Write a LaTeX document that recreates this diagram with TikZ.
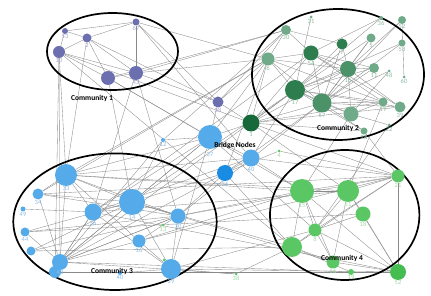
\documentclass[tikz,border=0pt]{standalone}
\usepackage{fontspec}
\setmainfont{Carlito}
\pgfdeclarelayer{bg}
\pgfsetlayers{bg,main}
\definecolor{c1}{HTML}{6B6FB0}
\definecolor{lc1}{HTML}{A3A6CF}
\definecolor{g2a}{HTML}{2E7D4F}
\definecolor{g2b}{HTML}{4C9268}
\definecolor{g2c}{HTML}{6FAA89}
\definecolor{g2d}{HTML}{17693A}
\definecolor{lg2}{HTML}{8DBBA0}
\definecolor{b3}{HTML}{55ABEA}
\definecolor{b36}{HTML}{1A8BE3}
\definecolor{lb3}{HTML}{8CBBE6}
\definecolor{g4}{HTML}{5BC764}
\definecolor{g4d}{HTML}{45BD50}
\definecolor{lg4}{HTML}{9ED9A3}
\definecolor{edgegray}{HTML}{8A8A8A}
\newcommand\mynode[7]{\node[circle,inner sep=0pt,minimum size=#4pt,fill=#5,
  label={[lab,text=#6]below:#7}] (#1) at (#2,#3) {};}
\begin{document}
\begin{tikzpicture}[x=1pt,y=-1pt,
  lab/.style={inner sep=0.3pt,font=\fontsize{6.5}{7}\selectfont},
  edge/.style={draw=edgegray,line width=0.35pt},
  comm/.style={draw=black,line width=1.7pt},
  ctitle/.style={font=\fontsize{7.5}{8}\selectfont\bfseries,inner sep=0pt}]
\path[use as bounding box] (0,0) rectangle (431,296);
% Community 1
\mynode{a53}{65}{31}{6}{c1}{lc1}{53}
\mynode{a2}{87}{38}{9}{c1}{lc1}{2}
\mynode{a67}{136}{22}{7}{c1}{lc1}{67}
\mynode{a10}{59}{52}{12}{c1}{lc1}{10}
\mynode{a12}{108}{78}{14}{c1}{lc1}{}
\mynode{a43}{136}{73}{14}{c1}{lc1}{43}
% Community 2
\mynode{m31}{311}{17}{3}{g2c}{lg2}{31}
\mynode{m30}{286}{30}{10}{g2c}{lg2}{30}
\mynode{m36}{381}{18}{4}{g2c}{lg2}{36}
\mynode{m52}{402}{20}{8}{g2c}{lg2}{52}
\mynode{m5}{371}{38}{9}{g2c}{lg2}{5}
\mynode{m58}{402}{43}{7}{g2c}{lg2}{58}
\mynode{m7}{342}{44}{11}{g2a}{lg2}{7}
\mynode{m54}{311}{53}{15}{g2a}{lg2}{54}
\mynode{m6}{268}{59}{13}{g2c}{lg2}{6}
\mynode{m16}{348}{69}{16}{g2b}{lg2}{16}
\mynode{m11}{374}{68}{10}{g2c}{lg2}{11}
\mynode{m48}{389}{71}{3}{g2c}{lg2}{48}
\mynode{m60}{404}{77}{3}{g2c}{lg2}{60}
\mynode{m17}{295}{90}{20}{g2a}{lg2}{17}
\mynode{m57}{322}{103}{19}{g2b}{lg2}{57}
\mynode{m19}{383}{102}{9}{g2c}{lg2}{19}
\mynode{m39}{400}{107}{11}{g2c}{lg2}{39}
\mynode{m20}{351}{114}{15}{g2c}{lg2}{}
\mynode{m22}{389}{125}{3}{g2c}{lg2}{22}
\mynode{m28}{364}{131}{7}{g2c}{lg2}{28}
% Bridge nodes
\mynode{p28}{218}{102}{11}{c1}{lc1}{28}
\mynode{d1}{251}{123}{17}{g2d}{lg2}{1}
\node[circle,inner sep=0pt,minimum size=24pt,fill=b3,
  label={[lab,text=lb3,label distance=2.5pt]below:37}] (q37) at (210,137) {};
\mynode{q12}{163}{140}{4}{b3}{lb3}{12}
\mynode{q40}{251}{158}{17}{b3}{lb3}{40}
\mynode{q36}{225}{173}{16}{b36}{lb3}{36}
% Community 3
\mynode{r33}{66}{175}{22}{b3}{lb3}{33}
\mynode{r34}{38}{194}{11}{b3}{lb3}{34}
\mynode{r49}{23}{209}{5}{b3}{lb3}{49}
\mynode{r36}{93}{212}{17}{b3}{lb3}{36}
\mynode{r14}{132}{202}{26}{b3}{lb3}{14}
\mynode{r30}{178}{216}{15}{b3}{lb3}{30}
\mynode{r44}{25}{232}{9}{b3}{lb3}{44}
\mynode{r16}{139}{241}{13}{b3}{lb3}{16}
\mynode{r47}{31}{251}{9}{b3}{lb3}{}
\mynode{r43b}{55}{272}{12}{b3}{lb3}{}
\mynode{r43}{60}{262}{16}{b3}{lb3}{43}
\mynode{r40}{120}{273}{4}{b3}{lb3}{40}
\mynode{r29}{171}{269}{20}{b3}{lb3}{29}
\mynode{s13}{163}{225}{3}{g4}{lg4}{13}
\mynode{s9}{164}{260}{3}{g4}{lg4}{}
% Community 4
\mynode{t4}{279}{151}{3}{g4}{lg4}{4}
\mynode{t21}{398}{176}{13}{g4}{lg4}{21}
\mynode{t15}{302}{191}{24}{g4}{lg4}{15}
\mynode{t51}{348}{191}{22}{g4}{lg4}{51}
\mynode{t18}{363}{214}{15}{g4}{lg4}{18}
\mynode{t8}{315}{230}{13}{g4}{lg4}{8}
\mynode{t3}{292}{247}{20}{g4}{lg4}{}
\mynode{t56}{333}{262}{13}{g4}{lg4}{56}
\mynode{t19}{351}{272}{6}{g4}{lg4}{19}
\mynode{t52}{398}{272}{16}{g4d}{lg4}{52}
\mynode{t38}{236}{274}{3}{g4}{lg4}{38}
% titles
\node[ctitle] (k1) at (92,98) {Community 1};
\node[ctitle] (k2) at (338,128) {Community 2};
\node[ctitle] (k3) at (112,271) {Community 3};
\node[ctitle] (k4) at (342,258) {Community 4};
\node[ctitle] (kb) at (235,146) {Bridge Nodes};
\begin{pgfonlayer}{bg}
\foreach \a/\b in {a53/a2,a2/a67,a53/a67,a10/a2,a10/a53,a10/a12,a10/a43,a2/a43,a12/a43,a67/a43,a2/a12,
  a43/m30,a12/m30,a2/p28,a10/r33,a10/r43,a10/r43b,a2/r33,a12/r14,a12/q37,a67/p28,a67/q40,a43/r36,a43/r30,
  a43/p28,a10/t3,a12/t15,a43/m6,a10/d1,a67/m6,
  m30/m54,m30/m6,m30/m7,m31/m17,m6/m54,m6/m16,m6/m57,m6/m17,m54/m16,m54/m57,m54/m19,m54/m11,m7/m16,m7/m57,
  m7/m17,m5/m16,m5/m17,m5/m57,m36/m54,m36/m17,m52/m60,m52/m57,m52/m16,m58/m57,m58/m17,m16/m57,m16/m17,
  m16/m11,m16/m20,m16/m39,m11/m17,m11/m57,m48/m57,m48/m20,m17/m57,m17/m19,m17/m39,m57/m20,m57/m19,m57/m39,
  m19/m20,m22/m20,m28/m17,m28/m57,m17/m20,m54/m39,m6/m19,
  d1/m17,d1/m57,d1/m39,d1/m19,d1/m16,d1/m6,d1/m28,d1/m54,
  m6/q37,m6/q36,m17/r14,m57/r30,m6/r33,m30/q12,m19/t51,m20/t15,m22/t8,m6/r34,m17/r43,m54/r36,m30/p28,
  m6/p28,m17/q40,m57/q36,m28/t21,
  r33/r34,r33/r36,r33/r14,r33/r43,r33/r16,r33/r30,r34/r14,r34/r30,r49/r36,r44/r14,r44/r30,r36/r14,r36/r29,
  r36/r43,r14/r30,r14/r43,r14/r29,r16/r43,r16/r29,r30/r43,r30/r29,r47/r14,r47/r30,r43/r44,r43/r34,r43/r36,
  r43b/r40,r40/r29,r43/r30,s13/r30,s9/r29,s13/r16,
  q37/r33,q37/r14,q37/r36,q37/r43,q37/r29,q36/r14,q36/r43,q36/r30,q40/r33,q40/r36,q12/r14,q12/r43,
  q37/p28,q37/q40,q40/q36,p28/d1,q37/d1,q12/q37,
  t21/t15,t21/t51,t21/t3,t21/t8,t21/t52,t15/t51,t15/t8,t15/t3,t15/t56,t15/t52,t51/t8,t51/t18,t51/t56,
  t51/t52,t8/t3,t8/t56,t8/t18,t3/t56,t3/t19,t18/t52,t56/t52,t19/t52,t8/t52,
  r33/t15,r36/t51,r14/t3,r29/t52,r43b/t52,r30/t21,r16/t15,q36/t3,q40/t15,q40/t21,q37/t8,d1/t51,d1/t21,
  t4/q36,t4/t21,t38/r29,t38/t3,t38/r43,r34/t21,r44/t18,r47/t3,r36/t52,r14/t56,r30/t15,r16/t21,r29/t8,
  r43/t19,r33/t51}
  \draw[edge] (\a) -- (\b);
\draw[comm] (112.5,51.5) ellipse [x radius=65.5, y radius=38.5];
\draw[comm] (338,74.5) ellipse [x radius=86, y radius=65.5];
\draw[comm] (115,221.7) ellipse [x radius=101.7, y radius=68.3];
\draw[comm] (344.7,215) ellipse [x radius=74.7, y radius=65];
\end{pgfonlayer}
\end{tikzpicture}
\end{document}
